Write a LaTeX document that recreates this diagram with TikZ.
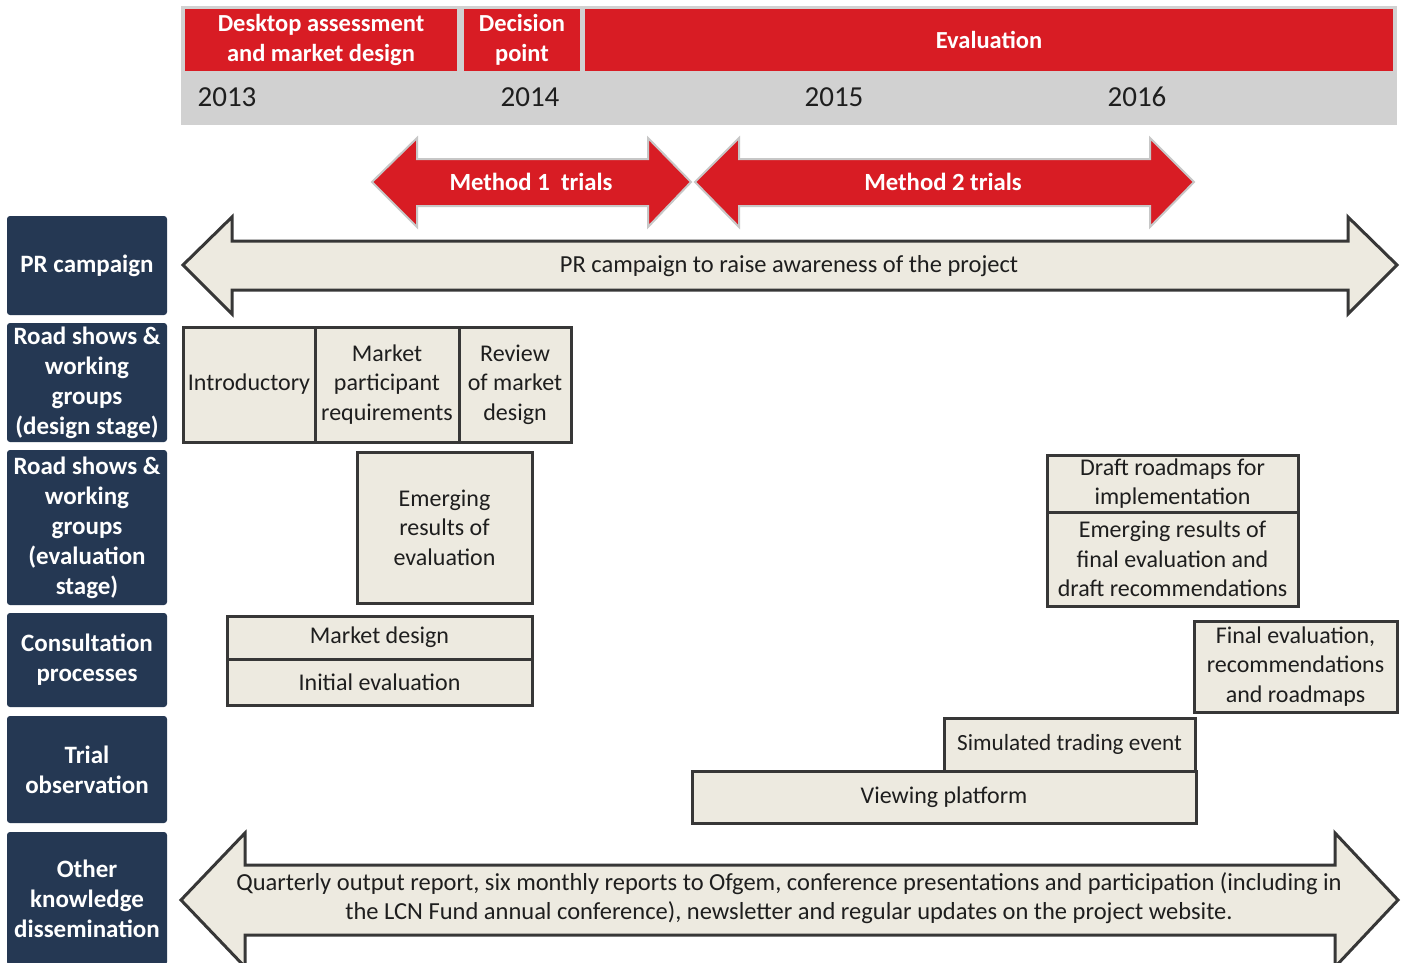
\documentclass[tikz,border=0pt]{standalone}
\usepackage{fontspec}
\setmainfont{Carlito}
\definecolor{hdrred}{RGB}{216,28,36}
\definecolor{bandgray}{RGB}{209,209,209}
\definecolor{navy}{RGB}{37,56,83}
\definecolor{beige}{RGB}{237,234,224}
\definecolor{edge}{RGB}{55,55,55}
\definecolor{ink}{RGB}{30,30,30}
\tikzset{
  plain/.style={font=\fontsize{24}{29.5}\selectfont, text=ink, align=center, inner sep=0pt},
  rowlabel/.style={fill=navy, rounded corners=3pt, text=white, align=center, inner sep=0pt, outer sep=0pt,
    font=\bfseries\fontsize{25}{30}\selectfont, anchor=north west},
  hdrbox/.style={fill=hdrred, text=white, align=center, inner sep=0pt, outer sep=0pt,
    font=\bfseries\fontsize{24.5}{29.5}\selectfont, anchor=north west},
  yearlbl/.style={font=\fontsize{29}{34}\selectfont, text=ink, inner sep=0pt},
  cell/.style={plain, draw=edge, line width=3pt, fill=beige, outer sep=0pt, anchor=north west},
  beigearrow/.style={draw=edge, line width=3pt, fill=beige, line join=miter},
  redarrow/.style={draw=black!22, line width=2pt, fill=hdrred, line join=miter},
  arrowtext/.style={text=white, font=\bfseries\fontsize{24.7}{30}\selectfont, inner sep=0pt},
  longtext/.style={plain, font=\fontsize{24.5}{29.5}\selectfont},
}
\begin{document}
\begin{tikzpicture}[x=1pt,y=-1pt]
\fill[white] (0,0) rectangle (1402,963);
\useasboundingbox (0,0) rectangle (1402,963);

% timeline header
\fill[bandgray] (181,6) rectangle (1397,125);
\node[hdrbox, minimum width=272pt, minimum height=62pt] (desk) at (185,9) {Desktop assessment\\and market design};
\node[hdrbox, minimum width=116pt, minimum height=62pt] (decision) at (464,9) {Decision\\point};
\node[hdrbox, minimum width=808pt, minimum height=62pt] (evaluation) at (585,9) {Evaluation};
\node[yearlbl] (y2013) at (227,97) {2013};
\node[yearlbl] (y2014) at (530,97) {2014};
\node[yearlbl] (y2015) at (834,97) {2015};
\node[yearlbl] (y2016) at (1137,97) {2016};

% trial periods
\draw[redarrow] (372,182) -- (417,138) -- (417,159) -- (648,159) -- (648,138) -- (691,182)
  -- (648,227) -- (648,206) -- (417,206) -- (417,227) -- cycle;
\node[arrowtext] (m1) at (531,182) {Method 1\ \ trials};
\draw[redarrow] (695,182) -- (739,138) -- (739,159) -- (1150,159) -- (1150,138) -- (1194,182)
  -- (1150,227) -- (1150,206) -- (739,206) -- (739,227) -- cycle;
\node[arrowtext] (m2) at (943,182) {Method 2 trials};

% row labels
\node[rowlabel, minimum width=160pt, minimum height=99pt] (rPR) at (7,216) {PR campaign};
\node[rowlabel, minimum width=160pt, minimum height=119pt] (rDesign) at (7,323) {Road shows \&\\working\\groups\\(design stage)};
\node[rowlabel, minimum width=160pt, minimum height=155pt] (rEval) at (7,450) {Road shows \&\\working\\groups\\(evaluation\\stage)};
\node[rowlabel, minimum width=160pt, minimum height=94pt] (rCons) at (7,613) {Consultation\\processes};
\node[rowlabel, minimum width=160pt, minimum height=107pt] (rTrial) at (7,716) {Trial\\observation};
\node[rowlabel, minimum width=160pt, minimum height=133pt] (rOther) at (7,832) {Other\\knowledge\\dissemination};

% PR campaign
\draw[beigearrow] (183,265) -- (232,217) -- (232,241) -- (1348,241) -- (1348,217) -- (1397,265)
  -- (1348,314) -- (1348,290) -- (232,290) -- (232,314) -- cycle;
\node[longtext] (prtext) at (789,266) {PR campaign to raise awareness of the project};

% road shows, design stage
\node[cell, minimum width=132pt, minimum height=115pt] (intro) at (183,327) {Introductory};
\node[cell, minimum width=144pt, minimum height=115pt] (mpr) at (315,327) {Market\\participant\\requirements};
\node[cell, minimum width=112pt, minimum height=115pt] (review) at (459,327) {Review\\of market\\design};

% road shows, evaluation stage
\node[cell, minimum width=175pt, minimum height=151pt] (emerg) at (357,452) {Emerging\\results of\\evaluation};
\node[cell, minimum width=251pt, minimum height=57pt] (draft) at (1047,455) {Draft roadmaps for\\implementation};
\node[cell, minimum width=251pt, minimum height=94pt] (emergfinal) at (1047,512) {Emerging results of\\final evaluation and\\draft recommendations};

% consultation
\node[cell, minimum width=305pt, minimum height=43pt] (mdesign) at (227,616) {Market design};
\node[cell, minimum width=305pt, minimum height=46pt] (initeval) at (227,659) {Initial evaluation};
\node[cell, minimum width=203pt, minimum height=91pt] (finaleval) at (1194,621) {Final evaluation,\\recommendations\\and roadmaps};

% trial observation
\node[cell, minimum width=251pt, minimum height=53pt, font=\fontsize{23.2}{29}\selectfont] (simtrade) at (944,718) {Simulated trading event};
\node[cell, minimum width=504pt, minimum height=52pt] (viewing) at (692,771) {Viewing platform};

% other knowledge dissemination
\draw[beigearrow] (181,900) -- (245,833) -- (245,865) -- (1335,865) -- (1335,833) -- (1398,900)
  -- (1335,967) -- (1335,935) -- (245,935) -- (245,967) -- cycle;
\node[longtext] (othertext) at (789,898) {Quarterly output report, six monthly reports to Ofgem, conference presentations and participation (including in\\the LCN Fund annual conference), newsletter and regular updates on the project website.};
\end{tikzpicture}
\end{document}
